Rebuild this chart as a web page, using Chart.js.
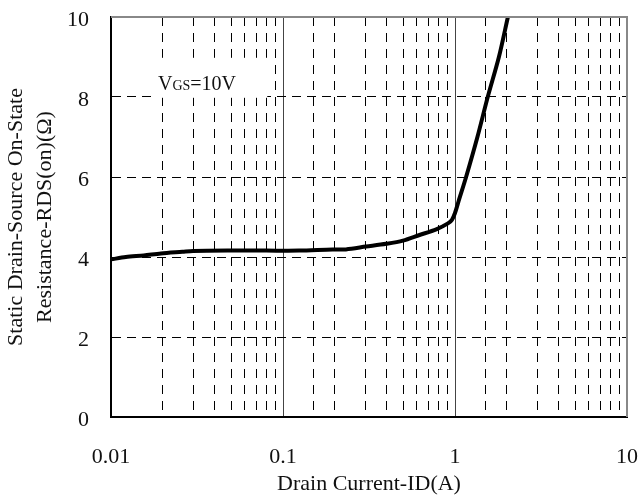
<!DOCTYPE html>
<html>
<head>
<meta charset="utf-8">
<script src="https://cdn.jsdelivr.net/npm/chart.js@4.4.1/dist/chart.umd.min.js"></script>
<style>
  html, body { margin: 0; padding: 0; background: #fff; }
  #wrap { width: 641px; height: 497px; }
</style>
</head>
<body>
<div id="wrap"><canvas id="myChart" width="641" height="497"></canvas></div>
<script>
// drain current (A) and on-resistance (ohm)
var currentA = [0.01, 0.0122, 0.0155, 0.0195, 0.026, 0.03, 0.05, 0.08, 0.124, 0.194, 0.232, 0.304, 0.398, 0.498, 0.622, 0.778, 0.91, 0.96, 1.0, 1.05, 1.16, 1.35, 1.55, 1.8, 2.03];
var rdsOhm = [3.94, 4.0, 4.04, 4.09, 4.13, 4.15, 4.16, 4.16, 4.16, 4.19, 4.19, 4.26, 4.33, 4.41, 4.55, 4.69, 4.84, 4.93, 5.1, 5.4, 6.0, 7.0, 8.0, 9.0, 10.0];
var yTicks = [0, 2, 4, 6, 8, 10];

var serif = "'Liberation Serif', 'Times New Roman', serif";

function isDecade(v) {
  var l = Math.log10(v);
  return Math.abs(l - Math.round(l)) < 1e-6;
}

// white box + V_GS label
var labelPlugin = {
  id: "vgsLabel",
  afterDatasetsDraw: function (chart) {
    var ctx = chart.ctx;
    var x = chart.scales.x, y = chart.scales.y;
    var left = x.getPixelForValue(0.0185), right = x.getPixelForValue(0.081);
    var top = y.getPixelForValue(8.98), bottom = y.getPixelForValue(7.98);
    ctx.save();
    ctx.fillStyle = "#fff";
    ctx.fillRect(left, top, right - left, bottom - top);
    ctx.fillStyle = "#111";
    ctx.textBaseline = "alphabetic";
    var bx = left + 1, by = top + 32;
    ctx.font = "20px " + serif;
    ctx.fillText("V", bx, by);
    bx += ctx.measureText("V").width;
    ctx.font = "14px " + serif;
    ctx.fillText("GS", bx, by);
    bx += ctx.measureText("GS").width;
    ctx.font = "20px " + serif;
    ctx.fillText("=10V", bx, by);
    ctx.restore();
  },
};

var ctx = document.getElementById("myChart").getContext("2d");
var chart = new Chart(ctx, {
  type: "line",
  data: {
    datasets: [
      {
        label: "RDS(on)",
        data: currentA.map(function (c, i) { return { x: c, y: rdsOhm[i] }; }),
        borderColor: "#000",
        borderWidth: 4,
        pointRadius: 0,
        tension: 0.3,
        fill: false,
      },
    ],
  },
  options: {
    responsive: false,
    animation: false,
    layout: { padding: { top: 17, right: 14, left: 0, bottom: 0 } },
    plugins: {
      legend: { display: false },
      tooltip: { enabled: false },
    },
    scales: {
      x: {
        type: "logarithmic",
        min: 0.01,
        max: 10,
        afterFit: function (s) {
          s.height = 80;
          s.paddingLeft = 0;
          s.paddingRight = 0;
        },
        ticks: {
          autoSkip: false,
          maxRotation: 0,
          padding: 27,
          color: "#111",
          font: { family: serif, size: 22 },
          callback: function (value) {
            if (!isDecade(value)) return "";
            return value >= 1 ? String(Math.round(value)) : String(Number(value.toPrecision(1)));
          },
        },
        grid: {
          drawTicks: false,
          color: function (c) {
            if (!c.tick) return "#000";
            return isDecade(c.tick.value) ? "#444" : "#000";
          },
          lineWidth: 1,
        },
        border: {
          display: true,
          color: "#000",
          width: 2,
          dash: function (c) {
            if (!c.tick) return [];
            return isDecade(c.tick.value) ? [] : [9, 7];
          },
        },
        title: {
          display: true,
          text: "Drain Current-ID(A)",
          color: "#111",
          font: { family: serif, size: 22 },
          padding: { top: 0, bottom: 0 },
        },
      },
      y: {
        min: 0,
        max: 10,
        afterFit: function (s) {
          s.width = 111;
          s.paddingTop = 0;
          s.paddingBottom = 0;
        },
        afterBuildTicks: function (s) {
          s.ticks = yTicks.map(function (v) { return { value: v }; });
        },
        ticks: {
          padding: 22,
          labelOffset: 3,
          color: "#111",
          font: { family: serif, size: 22 },
        },
        grid: {
          drawTicks: false,
          color: "#000",
          lineWidth: function (c) {
            if (!c.tick) return 1;
            return c.tick.value === 0 || c.tick.value === 10 ? 0 : 1;
          },
        },
        border: {
          display: true,
          color: "#000",
          width: 2,
          dash: function (c) {
            if (!c.tick) return [];
            return [9, 6];
          },
        },
        title: {
          display: true,
          text: ["Static Drain-Source On-State", "Resistance-RDS(on)(Ω)"],
          color: "#111",
          font: { family: serif, size: 22, lineHeight: 1.32 },
          padding: { top: 2, bottom: 0 },
        },
      },
    },
  },
  plugins: [
    labelPlugin,
    {
      id: "frame",
      afterDraw: function (chart) {
        var a = chart.chartArea, c = chart.ctx;
        c.save();
        c.strokeStyle = "#888";
        c.lineWidth = 2;
        c.beginPath();
        c.moveTo(a.left, a.top);
        c.lineTo(a.right, a.top);
        c.lineTo(a.right, a.bottom);
        c.stroke();
        c.restore();
      },
    },
  ],
});
</script>
</body>
</html>
